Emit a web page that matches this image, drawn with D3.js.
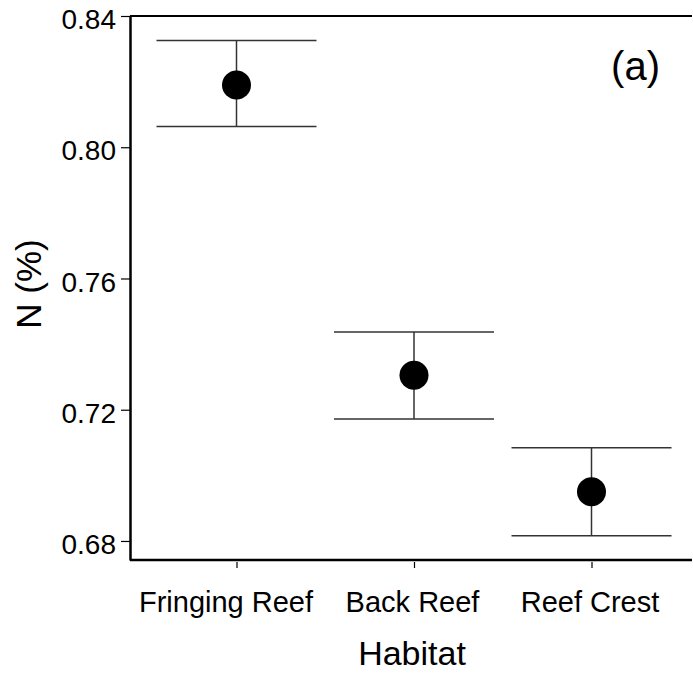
<!DOCTYPE html>
<html>
<head>
<meta charset="utf-8">
<script src="https://cdn.jsdelivr.net/npm/d3@7"></script>
<style>
  body { margin: 0; background: white; }
  svg { display: block; font-family: "Liberation Sans", Arial, sans-serif; }
</style>
</head>
<body>
<div id="container"></div>
<script>
var width = 693,
    height = 674;

// data
var habitats = ["Fringing Reef", "Back Reef", "Reef Crest"];
var means    = [0.819, 0.7305, 0.695];
var uppers   = [0.8325, 0.7437, 0.7084];
var lowers   = [0.8063, 0.7172, 0.6816];
var yTicks   = [0.68, 0.72, 0.76, 0.80, 0.84];

var margin = {left: 130, top: 16, right: 1, bottom: 114};

var svg = d3.select("#container")
            .append("svg")
            .attr("width", width)
            .attr("height", height);

var x = d3.scalePoint()
    .domain(habitats)
    .range([margin.left, 698])
    .padding(0.6);

var y = d3.scaleLinear()
    .domain([0.6742, 0.84])
    .range([height - margin.bottom, margin.top]);

var capHalf = 80;

// frame: top line + axes
svg.append("line")
   .attr("x1", margin.left).attr("x2", width - margin.right)
   .attr("y1", y(0.84)).attr("y2", y(0.84))
   .attr("stroke", "#000").attr("stroke-width", 2);

var yAxis = d3.axisLeft(y)
    .tickValues(yTicks)
    .tickFormat(d3.format(".2f"))
    .tickSize(9)
    .tickPadding(5)
    .tickSizeOuter(0);

var gy = svg.append("g")
   .attr("transform", "translate(" + margin.left + ",0)")
   .call(yAxis);
gy.select(".domain").attr("stroke-width", 2.5);
gy.selectAll(".tick line").attr("stroke-width", 1.2);
gy.selectAll("text")
  .attr("font-size", 28)
  .attr("dy", "0.45em")
  .attr("fill", "#000")
  .attr("font-family", "Liberation Sans, Arial, sans-serif");

var xAxis = d3.axisBottom(x)
    .tickSize(8)
    .tickPadding(23)
    .tickSizeOuter(0);

var gx = svg.append("g")
   .attr("transform", "translate(0," + y.range()[0] + ")")
   .call(xAxis);
gx.select(".domain").remove();
gx.append("line")
  .attr("x1", margin.left).attr("x2", width - margin.right)
  .attr("stroke", "#000").attr("stroke-width", 2.5);
gx.selectAll(".tick line").attr("stroke-width", 1.2).attr("y1", 2);
gx.selectAll("text")
  .attr("font-size", 29)
  .attr("fill", "#000")
  .attr("font-family", "Liberation Sans, Arial, sans-serif")
  .attr("dx", function(d, i) { return i === 0 ? -11 : -2; });

// error bars
var bars = svg.append("g").attr("id", "errbars");
habitats.forEach(function(h, i) {
  var cx = x(h);
  bars.append("line")
      .attr("x1", cx).attr("x2", cx)
      .attr("y1", y(uppers[i])).attr("y2", y(lowers[i]))
      .attr("stroke", "#333").attr("stroke-width", 1.5);
  [uppers[i], lowers[i]].forEach(function(v) {
    bars.append("line")
        .attr("x1", cx - capHalf).attr("x2", cx + capHalf)
        .attr("y1", y(v)).attr("y2", y(v))
        .attr("stroke", "#333").attr("stroke-width", 1.5);
  });
});

svg.append("g").selectAll("circle")
   .data(habitats)
   .enter().append("circle")
   .attr("cx", function(d) { return x(d); })
   .attr("cy", function(d, i) { return y(means[i]); })
   .attr("r", 14.5)
   .attr("fill", "#000");

// titles
svg.append("text")
   .attr("x", 412).attr("y", 665)
   .attr("text-anchor", "middle")
   .attr("font-size", 34)
   .text("Habitat");

svg.append("text")
   .attr("transform", "translate(41,284) rotate(-90)")
   .attr("text-anchor", "middle")
   .attr("font-size", 35)
   .text("N (%)");

svg.append("text")
   .attr("x", 660).attr("y", 80)
   .attr("text-anchor", "end")
   .attr("font-size", 40)
   .text("(a)");
</script>
</body>
</html>
